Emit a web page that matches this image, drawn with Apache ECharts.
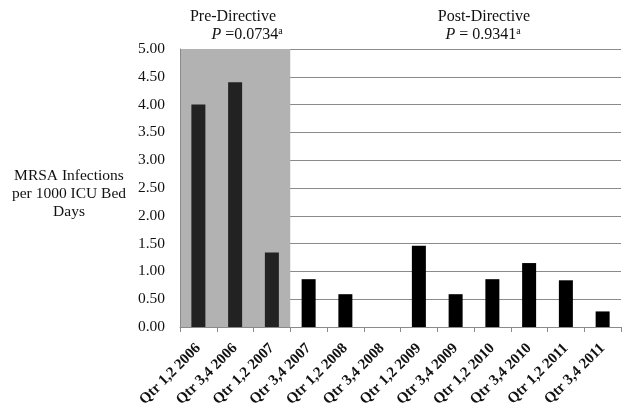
<!DOCTYPE html>
<html><head><meta charset="utf-8">
<script src="https://cdn.jsdelivr.net/npm/echarts@6/dist/echarts.min.js"></script>
<style>html,body{margin:0;padding:0;background:#fff}#c{width:629px;height:419px}</style>
</head><body><div id="c"></div>
<script>
const categories = ['Qtr 1,2 2006','Qtr 3,4 2006','Qtr 1,2 2007','Qtr 3,4 2007','Qtr 1,2 2008','Qtr 3,4 2008','Qtr 1,2 2009','Qtr 3,4 2009','Qtr 1,2 2010','Qtr 3,4 2010','Qtr 1,2 2011','Qtr 3,4 2011'];
const values = [4.00, 4.40, 1.34, 0.86, 0.59, 0, 1.46, 0.59, 0.86, 1.15, 0.84, 0.28];
const preCount = 3;
const FONT = 'Liberation Serif';
const chart = echarts.init(document.getElementById('c'));
const bandColors = categories.map((c, i) => i < preCount ? '#b2b2b2' : 'rgba(255,255,255,0)');
const rich = {
  i: { fontStyle: 'italic', fontSize: 16, fontFamily: FONT, color: '#111' },
  n: { fontSize: 16, fontFamily: FONT, color: '#111' },
  s: { fontSize: 10, verticalAlign: 'top', padding: [0,0,8,0], fontFamily: FONT, color: '#111' }
};
chart.setOption({
  animation: false,
  textStyle: { fontFamily: FONT },
  grid: { left: 180, top: 49, right: 8, bottom: 92 },
  title: [
    { text: 'Pre-Directive', left: 228, top: 4, textAlign: 'center',
      textStyle: { fontFamily: FONT, fontSize: 16, fontWeight: 'normal', color: '#111' } },
    { text: '{i|P}{n| =0.0734}{s|a}', left: 242, top: 21, textAlign: 'center',
      textStyle: { fontFamily: FONT, fontSize: 16, fontWeight: 'normal', color: '#111', rich: rich } },
    { text: 'Post-Directive', left: 479, top: 4, textAlign: 'center',
      textStyle: { fontFamily: FONT, fontSize: 16, fontWeight: 'normal', color: '#111' } },
    { text: '{i|P}{n| = 0.9341}{s|a}', left: 478, top: 21, textAlign: 'center',
      textStyle: { fontFamily: FONT, fontSize: 16, fontWeight: 'normal', color: '#111', rich: rich } },
    { text: 'MRSA Infections\nper 1000 ICU Bed\nDays', left: 64, top: 162, textAlign: 'center',
      textStyle: { fontFamily: FONT, fontSize: 15.5, fontWeight: 'normal', color: '#111', lineHeight: 18, align: 'center' } }
  ],
  xAxis: {
    type: 'category', data: categories,
    axisLine: { lineStyle: { color: '#8a8a8a' } },
    axisTick: { show: true, alignWithLabel: false, length: 5, lineStyle: { color: '#8a8a8a' } },
    axisLabel: { rotate: 45, interval: 0, fontFamily: FONT, fontWeight: 'bold', fontSize: 15, color: '#111', margin: 19 },
    splitArea: { show: true, areaStyle: { color: bandColors } }
  },
  yAxis: {
    type: 'value', min: 0, max: 5, interval: 0.5,
    axisLine: { show: true, lineStyle: { color: '#8a8a8a' } },
    axisTick: { show: false },
    axisLabel: { formatter: v => v.toFixed(2), fontFamily: FONT, fontSize: 15.5, color: '#111', margin: 15 },
    splitLine: { lineStyle: { color: '#8a8a8a', width: 1 } }
  },
  series: [{
    type: 'bar', barWidth: 14,
    data: values.map((v, i) => ({ value: v, itemStyle: { color: i < preCount ? '#222' : '#000' } })),
    z: 3
  }]
});
</script></body></html>
